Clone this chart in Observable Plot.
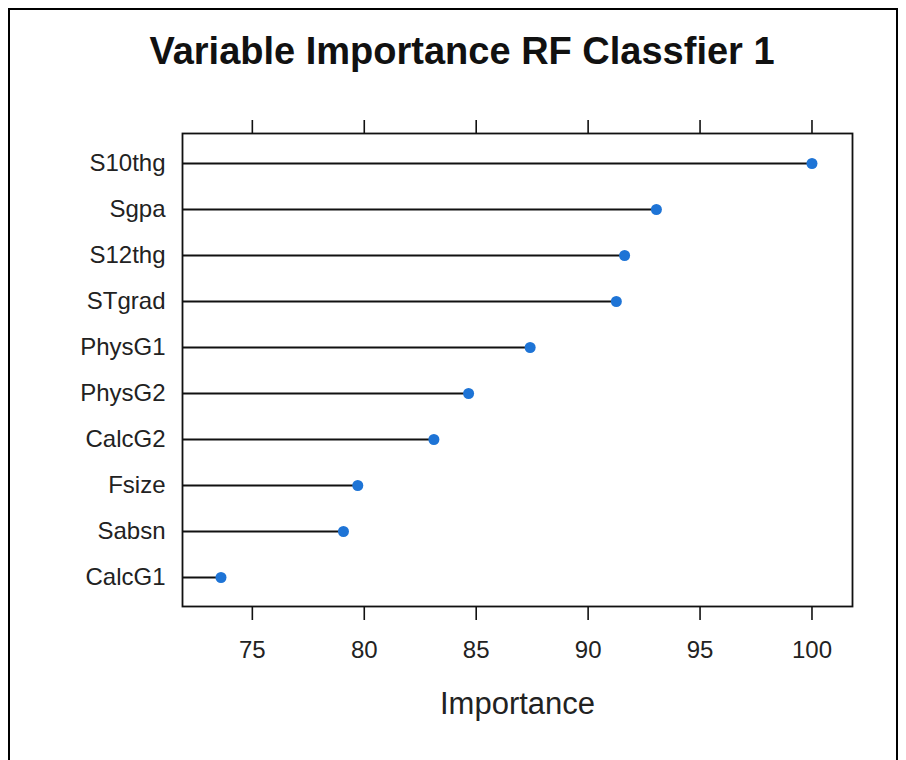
<!DOCTYPE html>
<html><head><meta charset="utf-8">
<script src="https://cdn.jsdelivr.net/npm/d3@7"></script>
<script src="https://cdn.jsdelivr.net/npm/@observablehq/plot@0.6"></script>
<style>
body{margin:0;background:#fff;}
#wrap{position:relative;width:906px;height:760px;overflow:hidden;background:#fff;font-family:"Liberation Sans",Arial,sans-serif;}
#border{position:absolute;left:8px;top:8px;width:890px;height:800px;border:2px solid #000;box-sizing:border-box;}
#title{position:absolute;left:0;width:924px;top:32px;text-align:center;font-weight:bold;font-size:38px;line-height:38px;color:#111;}
#chart{position:absolute;left:0;top:0;}
</style></head><body>
<div id="wrap"><div id="border"></div><div id="chart"></div><div id="title">Variable Importance RF Classfier 1</div></div>
<script>
const variables = ["S10thg","Sgpa","S12thg","STgrad","PhysG1","PhysG2","CalcG2","Fsize","Sabsn","CalcG1"];
const importance = [100, 93.05, 91.63, 91.26, 87.41, 84.66, 83.11, 79.71, 79.07, 73.60];
const xTicks = [75, 80, 85, 90, 95, 100];
const xDomain = [71.88, 101.81];
const axisTitle = ["Importance"];

const data = variables.map((v, i) => ({variable: v, importance: importance[i]}));

const chart = Plot.plot({
  width: 906,
  height: 760,
  marginLeft: 182,
  marginRight: 54,
  marginTop: 133,
  marginBottom: 154,
  style: {fontFamily: '"Liberation Sans", Arial, sans-serif', fontSize: "24px", color: "#222", background: "transparent"},
  x: {domain: xDomain},
  y: {type: "point", domain: variables, padding: 0.6},
  marks: [
    Plot.ruleY(data, {y: "variable", x1: xDomain[0], x2: "importance", stroke: "#111", strokeWidth: 2}),
    Plot.dot(data, {y: "variable", x: "importance", r: 5.5, fill: "#1e74d6", stroke: "none"}),
    Plot.frame({stroke: "#111", strokeWidth: 1.8}),
    Plot.axisX({anchor: "bottom", ticks: xTicks, tickSize: 14, tickPadding: 20, label: null, fontSize: 24, stroke: "#111", strokeWidth: 1.6}),
    Plot.axisX({anchor: "top", ticks: xTicks, tickSize: 14, tickFormat: () => "", label: null, stroke: "#111", strokeWidth: 1.6}),
    Plot.axisY({tickSize: 0, tickPadding: 17, label: null, fontSize: 24}),
    Plot.text(axisTitle, {frameAnchor: "bottom", dy: 107, lineAnchor: "bottom", fontSize: 31, fill: "#222"})
  ]
});
document.getElementById("chart").appendChild(chart);
</script>
</body></html>
